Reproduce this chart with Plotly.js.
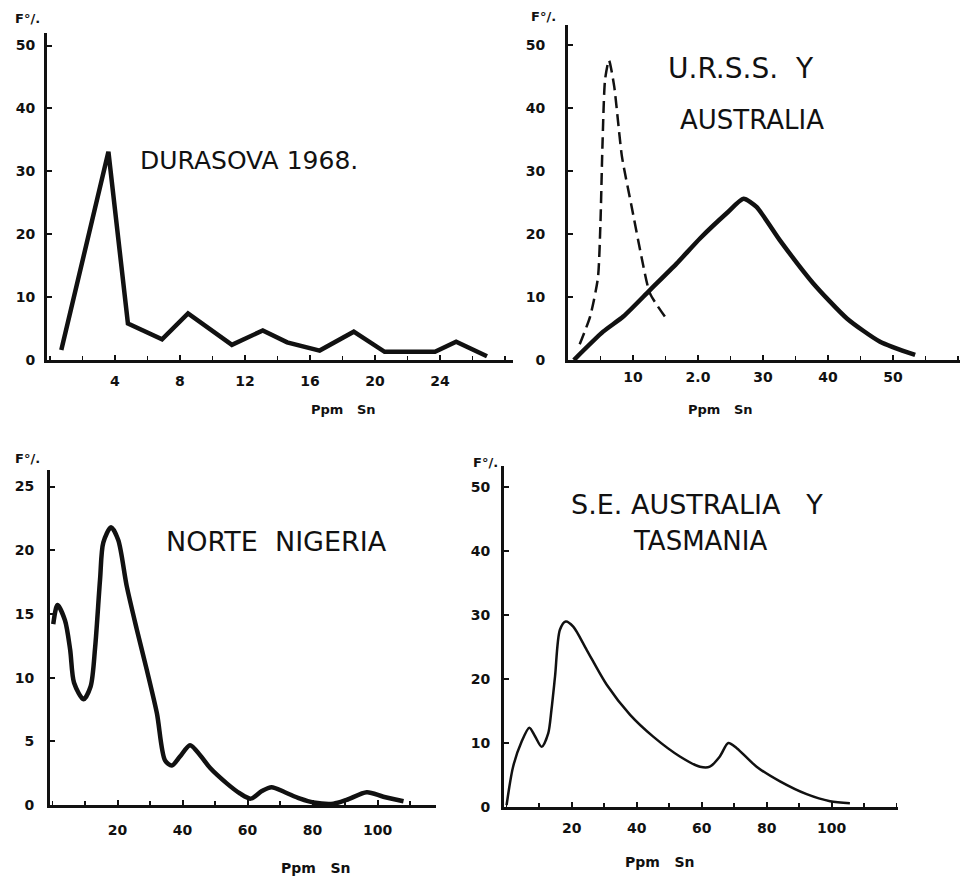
<!DOCTYPE html>
<html><head><meta charset="utf-8">
<script src="https://cdn.plot.ly/plotly-3.0.1.min.js"></script>
<style>html,body{margin:0;padding:0;background:#fff}#c{width:963px;height:880px}</style>
</head><body><div id="c"></div>
<script>
// Panel 1: DURASOVA 1968
const durasovaX = [0.7, 3.6, 4.8, 6.9, 8.5, 11.2, 13.1, 14.6, 16.6, 18.7, 20.6, 23.7, 25.0, 26.9];
const durasovaY = [1.6, 33.1, 5.8, 3.3, 7.4, 2.4, 4.7, 2.8, 1.5, 4.5, 1.3, 1.3, 2.9, 0.6];
// Panel 2: URSS (dashed) and Australia (solid)
const urssX = [1.8, 3.4, 4.6, 5.0, 5.3, 5.7, 6.3, 7.1, 8.3, 9.8, 11.3, 12.6, 14.9];
const urssY = [2.5, 6.9, 13.0, 22.0, 34.0, 44.5, 47.6, 43.5, 32.3, 24.3, 16.4, 10.6, 6.9];
const australiaX = [0.9, 5.4, 8.5, 12.6, 16.7, 20.3, 24.4, 27.0, 29.0, 32.6, 37.7, 42.9, 48.0, 53.4];
const australiaY = [0, 4.5, 6.9, 11.1, 15.3, 19.3, 23.3, 25.6, 24.3, 19.0, 12.2, 6.6, 2.9, 0.8];
// Panel 3: Norte Nigeria
const nigeriaX = [0.2, 1.5, 3.8, 5.4, 6.6, 9.5, 11.7, 13.1, 14.6, 15.6, 18.0, 20.2, 22.8, 25.9, 29.0, 32.1, 34.6, 36.7, 39.2, 42.3, 45.4, 48.5, 53.6, 57.7, 61.0, 64.4, 67.4, 71.5, 76.2, 80.3, 86.4, 90.5, 96.7, 101.8, 108];
const nigeriaY = [14.2, 15.7, 14.5, 12.2, 9.6, 8.3, 9.3, 12.4, 17.7, 20.6, 21.8, 20.8, 17.2, 13.8, 10.6, 7.2, 3.5, 3.1, 3.8, 4.7, 3.9, 2.9, 1.7, 0.9, 0.5, 1.1, 1.4, 1.0, 0.5, 0.2, 0.1, 0.4, 1.0, 0.65, 0.3];
// Panel 4: S.E. Australia y Tasmania
const tasmaniaX = [0, 2.0, 4.6, 7.0, 8.7, 10.8, 12.8, 13.8, 14.9, 16.4, 18.2, 20.5, 24.7, 30.8, 38.0, 45.1, 53.3, 59.5, 62.5, 65.6, 68.2, 70.8, 76.9, 84.1, 92.3, 99.5, 105.6];
const tasmaniaY = [0.3, 6.3, 10.2, 12.4, 11.1, 9.4, 11.5, 15.2, 20.4, 27.7, 29.0, 28.2, 24.5, 19.1, 14.4, 11.0, 7.9, 6.3, 6.3, 7.9, 10.0, 9.2, 6.3, 4.0, 2.0, 0.9, 0.6];

// tick labels
const t1x = [4, 8, 12, 16, 20, 24];
const t2x = [10, 20, 30, 40, 50];
const t2xText = ['10', '2.0', '30', '40', '50'];
const t3x = [20, 40, 60, 80, 100];
const t4x = [20, 40, 60, 80, 100];
const y50 = [0, 10, 20, 30, 40, 50];
const y25 = [0, 5, 10, 15, 20, 25];

const W = 963, H = 880;
const PX = p => p / W, PY = p => 1 - p / H;
const ink = '#111';
const tf = {family: 'DejaVu Sans', size: 14, color: ink, weight: 'bold'};

function ax(anchor, dom, range, tickvals, ticktext, minorDt, standoff) {
  const a = {
    anchor: anchor, domain: dom, range: range, showline: true, linewidth: 3, linecolor: ink,
    ticks: 'inside', ticklen: 5, tickwidth: 2, tickcolor: ink,
    showgrid: false, zeroline: false, tickfont: tf,
    tickmode: 'array', tickvals: tickvals, ticklabelstandoff: standoff,
    fixedrange: true
  };
  if (ticktext) a.ticktext = ticktext;
  if (minorDt) a.minor = {dtick: minorDt, tick0: 0, ticks: 'inside', ticklen: 4, tickwidth: 1.5, tickcolor: ink, showgrid: false};
  return a;
}

const traces = [
  {x: durasovaX, y: durasovaY, xaxis: 'x', yaxis: 'y', mode: 'lines', line: {color: ink, width: 4.5, shape: 'linear'}},
  {x: urssX, y: urssY, xaxis: 'x2', yaxis: 'y2', mode: 'lines', line: {color: ink, width: 2.5, dash: '12px,6px', shape: 'spline', smoothing: 0.6}},
  {x: australiaX, y: australiaY, xaxis: 'x2', yaxis: 'y2', mode: 'lines', line: {color: ink, width: 4.5, shape: 'spline', smoothing: 0.6}},
  {x: nigeriaX, y: nigeriaY, xaxis: 'x3', yaxis: 'y3', mode: 'lines', line: {color: ink, width: 4.5, shape: 'spline', smoothing: 0.8}},
  {x: tasmaniaX, y: tasmaniaY, xaxis: 'x4', yaxis: 'y4', mode: 'lines', line: {color: ink, width: 2.5, shape: 'spline', smoothing: 0.8}}
];

function ann(text, xp, yp, size, bold) {
  return {text: text, x: PX(xp), y: PY(yp), xref: 'paper', yref: 'paper', showarrow: false,
    xanchor: 'center', yanchor: 'middle',
    font: {family: 'DejaVu Sans', size: size, color: ink, weight: bold ? 'bold' : 'normal'}};
}

const layout = {
  width: W, height: H, margin: {l: 0, r: 0, t: 0, b: 0},
  paper_bgcolor: '#fff', plot_bgcolor: '#fff', showlegend: false,
  xaxis: ax('y', [PX(47), PX(513)], [-0.18, 28.5], t1x, null, 2, 6),
  yaxis: ax('x', [PY(360), PY(33)], [0, 52], y50, null, null, 6),
  xaxis2: ax('y2', [PX(568), PX(960)], [0, 60.3], t2x, t2xText, 5, 2),
  yaxis2: ax('x2', [PY(360), PY(25)], [0, 53.2], y50, null, null, 17),
  xaxis3: ax('y3', [PX(50), PX(436)], [-0.8, 118], t3x, null, 10, 10),
  yaxis3: ax('x3', [PY(805), PY(470)], [0, 26.3], y25, null, null, 10),
  xaxis4: ax('y4', [PX(504), PX(898)], [-0.8, 120.4], t4x, null, 10, 6),
  yaxis4: ax('x4', [PY(807), PY(466)], [0, 53.3], y50, null, null, 8),
  annotations: [
    ann('F°/.', 27, 18, 13, true),
    ann('F°/.', 543, 17, 13, true),
    ann('F°/.', 27, 458, 13, true),
    ann('F°/.', 486, 462, 13, true),
    ann('DURASOVA 1968.', 249, 160, 25, false),
    ann('U.R.S.S.  Y', 741, 68, 28, false),
    ann('AUSTRALIA', 752, 120, 26, false),
    ann('NORTE  NIGERIA', 276, 541, 27, false),
    ann('S.E. AUSTRALIA   Y', 697, 504, 27, false),
    ann('TASMANIA', 700, 541, 26, false),
    ann('Ppm   Sn', 343, 410, 13, true),
    ann('Ppm   Sn', 720, 410, 13, true),
    ann('Ppm   Sn', 316, 868, 14, true),
    ann('Ppm   Sn', 660, 862, 14, true)
  ]
};

Plotly.newPlot('c', traces, layout, {displayModeBar: false, staticPlot: true});
</script>
</body></html>
